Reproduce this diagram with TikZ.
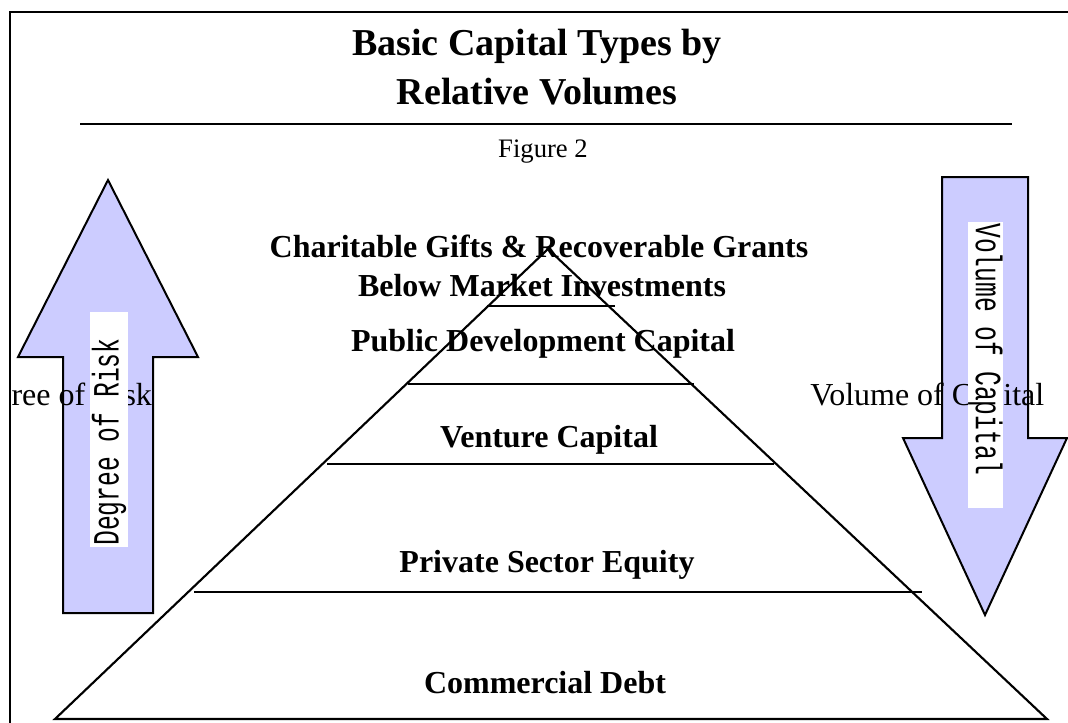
\documentclass[tikz,border=0pt]{standalone}
\usepackage{fontspec}
\setmainfont{Liberation Serif}
\newfontfamily\tagfont{Liberation Mono}
\usepackage{graphicx}
\usetikzlibrary{positioning}
\definecolor{lavender}{RGB}{204,204,255}

\tikzset{
  heading/.style={font=\fontsize{28.5}{34}\selectfont\bfseries, anchor=base, inner sep=0pt},
  caption/.style={font=\fontsize{20}{24}\selectfont, anchor=base, inner sep=0pt},
  tier/.style={font=\fontsize{24}{28}\selectfont\bfseries, anchor=base, inner sep=0pt},
  sidetext/.style={font=\fontsize{24}{28}\selectfont, anchor=base west, inner sep=0pt},
  bigarrow/.style={fill=lavender, draw=black, line width=1.5pt, line join=miter},
  tagbox/.style={fill=white, inner sep=0pt},
  tagtext/.style={font=\fontsize{18.5}{20}\tagfont, inner sep=1pt, anchor=west},
  rule/.style={line width=2pt},
  edge/.style={line width=1.6pt}
}
\newcommand{\tall}[1]{\scalebox{1}[1.5]{#1}}

\begin{document}
\begin{tikzpicture}[x=0.75pt, y=-0.75pt]
        \path[use as bounding box, clip] (0,0) rectangle (1068,722);

        % frame and heading %
        \draw[line width=2pt] (10,760) |- (1100,12);
        \node[heading] (title) at (537,55) {Basic Capital Types by};
        \node[heading] (title2) at (537,104) {Relative Volumes};
        \coordinate (rulel) at (80,124);
        \coordinate (ruler) at (1012,124);
        \draw[rule] (rulel) -- (ruler);
        \node[caption] (fig) at (543,157) {Figure 2};

        % pyramid %
        \coordinate (apex) at (548,249);
        \coordinate (basel) at (55,719);
        \coordinate (baser) at (1047,719);
        \draw[edge, line join=miter] (basel) -- (apex) -- (baser) -- cycle;

        \coordinate (s1l) at (487,306);  \coordinate (s1r) at (615,306);
        \coordinate (s2l) at (408,384);  \coordinate (s2r) at (694,384);
        \coordinate (s3l) at (327,464);  \coordinate (s3r) at (774,464);
        \coordinate (s4l) at (194,592);  \coordinate (s4r) at (922,592);
        \foreach \s in {s1,s2,s3,s4}
          \draw[rule] (\s l) -- (\s r);

        \node[tier] (gifts) at (539,257) {Charitable Gifts \& Recoverable Grants};
        \node[tier] (below) at (542,296) {Below Market Investments};
        \node[tier] (public) at (543,351) {Public Development Capital};
        \node[tier] (venture) at (549,447) {Venture Capital};
        \node[tier] (private) at (547,572) {Private Sector Equity};
        \node[tier] (debt) at (545,693) {Commercial Debt};

        % side arrows %
        \coordinate (uptip) at (108,180);
        \draw[bigarrow] (uptip) -- (198,357) -- (153,357) -- (153,613)
          -- (63,613) -- (63,357) -- (18,357) -- cycle;
        \coordinate (downtip) at (985,615);
        \draw[bigarrow] (downtip) -- (903,438) -- (942,438) -- (942,177)
          -- (1028,177) -- (1028,438) -- (1067,438) -- cycle;

        % the left one only shows inside the frame
        \begin{scope}
          \clip (12,0) rectangle (1068,722);
          \node[sidetext] (risk) at (-42,405) {Degree of Risk};
        \end{scope}
        \node[sidetext] (volume) at (810,405) {Volume of Capital};

        % labels on the arrows %
        \node[tagbox, rotate=90, minimum width=176.25pt, minimum height=28.5pt] (risktag) at (109,429.5) {};
        \node[tagtext, rotate=90] (risklabel) at (risktag.west) {\tall{Degree of Risk}};
        \node[tagbox, rotate=-90, minimum width=214.5pt, minimum height=26.25pt] (voltag) at (985.5,365) {};
        \node[tagtext, rotate=-90] (vollabel) at (voltag.west) {\tall{Volume of Capital}};
\end{tikzpicture}
\end{document}
